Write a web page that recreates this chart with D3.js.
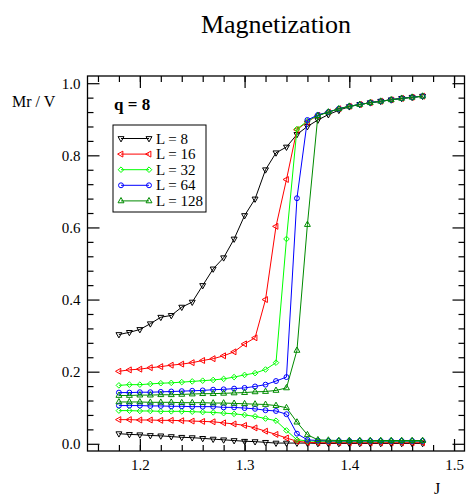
<!DOCTYPE html>
<html><head><meta charset="utf-8">
<script src="https://cdn.jsdelivr.net/npm/d3@7/dist/d3.min.js"></script>
<style>body{margin:0;background:#fff}svg{display:block}</style>
</head><body><svg id="c" width="467" height="497"></svg>
<script>
// ---------- data ----------
const J = [1.18,1.19,1.20,1.21,1.22,1.23,1.24,1.25,1.26,1.27,1.28,1.29,1.30,1.31,1.32,1.33,1.34,1.35,1.36,1.37,1.38,1.39,1.40,1.41,1.42,1.43,1.44,1.45,1.46,1.47];
const sizes = ["8","16","32","64","128"];
const colors = ["#000000","#ff0000","#00ff00","#0000ff","#008b00"];
const shapes = ["down","left","diamond","circle","up"];

const up8   = [0.303,0.309,0.317,0.333,0.351,0.356,0.379,0.393,0.439,0.485,0.516,0.568,0.633,0.679,0.760,0.807,0.823,0.858,0.880,0.898,0.913,0.925,0.935,0.941,0.946,0.950,0.954,0.958,0.961,0.964];
const up16  = [0.201,0.205,0.207,0.211,0.214,0.218,0.221,0.225,0.231,0.236,0.244,0.255,0.277,0.294,0.400,0.603,0.733,0.871,0.893,0.911,0.920,0.929,0.936,0.941,0.946,0.950,0.954,0.958,0.961,0.964];
const up32  = [0.162,0.164,0.164,0.166,0.168,0.169,0.171,0.173,0.175,0.177,0.180,0.185,0.191,0.196,0.206,0.225,0.568,0.873,0.895,0.911,0.920,0.929,0.936,0.941,0.946,0.950,0.954,0.958,0.961,0.964];
const up64  = [0.142,0.142,0.143,0.143,0.144,0.145,0.146,0.147,0.148,0.150,0.151,0.153,0.155,0.159,0.164,0.174,0.185,0.681,0.898,0.912,0.920,0.929,0.936,0.941,0.946,0.950,0.954,0.958,0.961,0.964];
const up128 = [0.134,0.134,0.135,0.135,0.136,0.136,0.137,0.138,0.139,0.139,0.140,0.141,0.142,0.144,0.145,0.148,0.155,0.259,0.608,0.910,0.920,0.929,0.936,0.941,0.946,0.950,0.954,0.958,0.961,0.964];

const lo8   = [0.028,0.026,0.025,0.023,0.022,0.020,0.018,0.017,0.015,0.013,0.011,0.009,0.007,0.006,0.004,0.002,0.002,0.002,0.002,0.001,0.001,0.001,0.001,0.001,0.001,0.001,0.001,0.001,0.001,0.001];
const lo16  = [0.067,0.067,0.066,0.066,0.065,0.065,0.064,0.063,0.062,0.061,0.058,0.055,0.051,0.044,0.035,0.026,0.016,0.007,0.004,0.003,0.003,0.003,0.003,0.003,0.003,0.003,0.003,0.003,0.003,0.003];
const lo32  = [0.092,0.092,0.091,0.091,0.090,0.090,0.090,0.089,0.088,0.087,0.085,0.083,0.080,0.076,0.070,0.064,0.037,0.011,0.008,0.007,0.007,0.007,0.007,0.007,0.007,0.007,0.007,0.007,0.007,0.007];
const lo64  = [0.106,0.106,0.106,0.105,0.105,0.104,0.104,0.103,0.103,0.103,0.101,0.101,0.099,0.097,0.093,0.091,0.082,0.028,0.011,0.009,0.008,0.008,0.008,0.008,0.008,0.008,0.008,0.008,0.008,0.008];
const lo128 = [0.116,0.116,0.116,0.115,0.115,0.115,0.114,0.114,0.114,0.113,0.113,0.112,0.111,0.110,0.109,0.106,0.100,0.060,0.025,0.011,0.010,0.009,0.009,0.009,0.009,0.009,0.009,0.009,0.009,0.009];

const xMajor = [1.2,1.3,1.4,1.5];
const yMajor = [0.0,0.2,0.4,0.6,0.8,1.0];

const upper = [up8,up16,up32,up64,up128];
const lower = [lo8,lo16,lo32,lo64,lo128];

// ---------- layout ----------
const svg = d3.select("#c");
const L = 87.5, R = 464.5, T = 76, B = 451;
const x = d3.scaleLinear().domain([1.15,1.51]).range([L,R]);
const y = d3.scaleLinear().domain([-0.02,1.02]).range([B,T]);
const serif = "'Liberation Serif','Times New Roman',serif";

const xMinor = d3.range(1.16,1.51,0.02).map(v=>+v.toFixed(2));
const yMinor = d3.range(0.04,1.02,0.04).map(v=>+v.toFixed(2)).filter(v=>Math.abs(v/0.2-Math.round(v/0.2))>1e-6);

function style(g){ g.select(".domain").remove(); g.selectAll(".tick line").attr("stroke","#000").attr("stroke-width",1.2);
  g.selectAll("text").attr("font-family",serif).attr("font-size","15px").attr("fill","#000"); }

svg.append("g").attr("transform",`translate(0,${B})`)
  .call(d3.axisBottom(x).tickValues(xMajor).tickSize(-12).tickPadding(8).tickFormat(d3.format(".1f"))).call(style);
svg.append("g").attr("transform",`translate(0,${B})`)
  .call(d3.axisBottom(x).tickValues(xMinor).tickSize(-6).tickFormat("")).call(style);
svg.append("g").attr("transform",`translate(0,${T})`)
  .call(d3.axisTop(x).tickValues(xMajor).tickSize(-12).tickFormat("")).call(style);
svg.append("g").attr("transform",`translate(0,${T})`)
  .call(d3.axisTop(x).tickValues(xMinor).tickSize(-6).tickFormat("")).call(style);
svg.append("g").attr("transform",`translate(${L},0)`)
  .call(d3.axisLeft(y).tickValues(yMajor).tickSize(-12).tickPadding(7).tickFormat(d3.format(".1f"))).call(style);
svg.append("g").attr("transform",`translate(${L},0)`)
  .call(d3.axisLeft(y).tickValues(yMinor).tickSize(-6).tickFormat("")).call(style);
svg.append("g").attr("transform",`translate(${R},0)`)
  .call(d3.axisRight(y).tickValues(yMajor).tickSize(-12).tickFormat("")).call(style);
svg.append("g").attr("transform",`translate(${R},0)`)
  .call(d3.axisRight(y).tickValues(yMinor).tickSize(-6).tickFormat("")).call(style);

svg.append("rect").attr("x",L).attr("y",T).attr("width",R-L).attr("height",B-T)
  .attr("fill","none").attr("stroke","#000").attr("stroke-width",1.3);

// ---------- markers ----------
function markerPath(shape){
  const s=3.4;
  switch(shape){
    case "up": return `M0,${-s} L${s*0.87},${s*0.55} L${-s*0.87},${s*0.55} Z`;
    case "down": return `M0,${s} L${s*0.87},${-s*0.55} L${-s*0.87},${-s*0.55} Z`;
    case "left": return `M${-s},0 L${s*0.55},${-s*0.87} L${s*0.55},${s*0.87} Z`;
    case "diamond": return `M0,-2.8 L2.8,0 L0,2.8 L-2.8,0 Z`;
    case "circle": return d3.symbol(d3.symbolCircle, 19)();
  }
}

const line = d3.line().x(d=>x(d[0])).y(d=>y(d[1]));
const plot = svg.append("g");
sizes.forEach((s,i)=>{
  [upper[i],lower[i]].forEach(vals=>{
    const pts = J.map((j,k)=>[j,vals[k]]);
    const g = plot.append("g");
    g.append("path").attr("d",line(pts)).attr("fill","none").attr("stroke",colors[i]).attr("stroke-width",1);
    g.selectAll("path.m").data(pts).join("path").attr("class","m")
      .attr("transform",d=>`translate(${x(d[0])},${y(d[1])})`)
      .attr("d",markerPath(shapes[i])).attr("fill","none").attr("stroke",colors[i]).attr("stroke-width",1);
  });
});

// ---------- legend ----------
const lg = svg.append("g");
lg.append("rect").attr("x",113).attr("y",125).attr("width",93).attr("height",87)
  .attr("fill","#fff").attr("stroke","#000").attr("stroke-width",1);
sizes.forEach((s,i)=>{
  const yy = 138.5 + i*15.6;
  lg.append("line").attr("x1",121).attr("x2",149).attr("y1",yy).attr("y2",yy).attr("stroke",colors[i]).attr("stroke-width",1);
  [121,149].forEach(xx=>lg.append("path").attr("transform",`translate(${xx},${yy})`).attr("d",markerPath(shapes[i]))
    .attr("fill","none").attr("stroke",colors[i]).attr("stroke-width",1));
  lg.append("text").attr("x",156).attr("y",yy+5).attr("font-family",serif).attr("font-size","15px").text("L = "+s);
});

// ---------- texts ----------
svg.append("text").attr("x",(L+R)/2).attr("y",33).attr("text-anchor","middle")
  .attr("font-family",serif).attr("font-size","26px").text("Magnetization");
svg.append("text").attr("x",114).attr("y",110).attr("font-family",serif).attr("font-weight","bold")
  .attr("font-size","17px").text("q = 8");
svg.append("text").attr("x",12).attr("y",107).attr("font-family",serif).attr("font-size","16px").text("Mr / V");
svg.append("text").attr("x",434).attr("y",494).attr("font-family",serif).attr("font-size","16px").text("J");
</script></body></html>
